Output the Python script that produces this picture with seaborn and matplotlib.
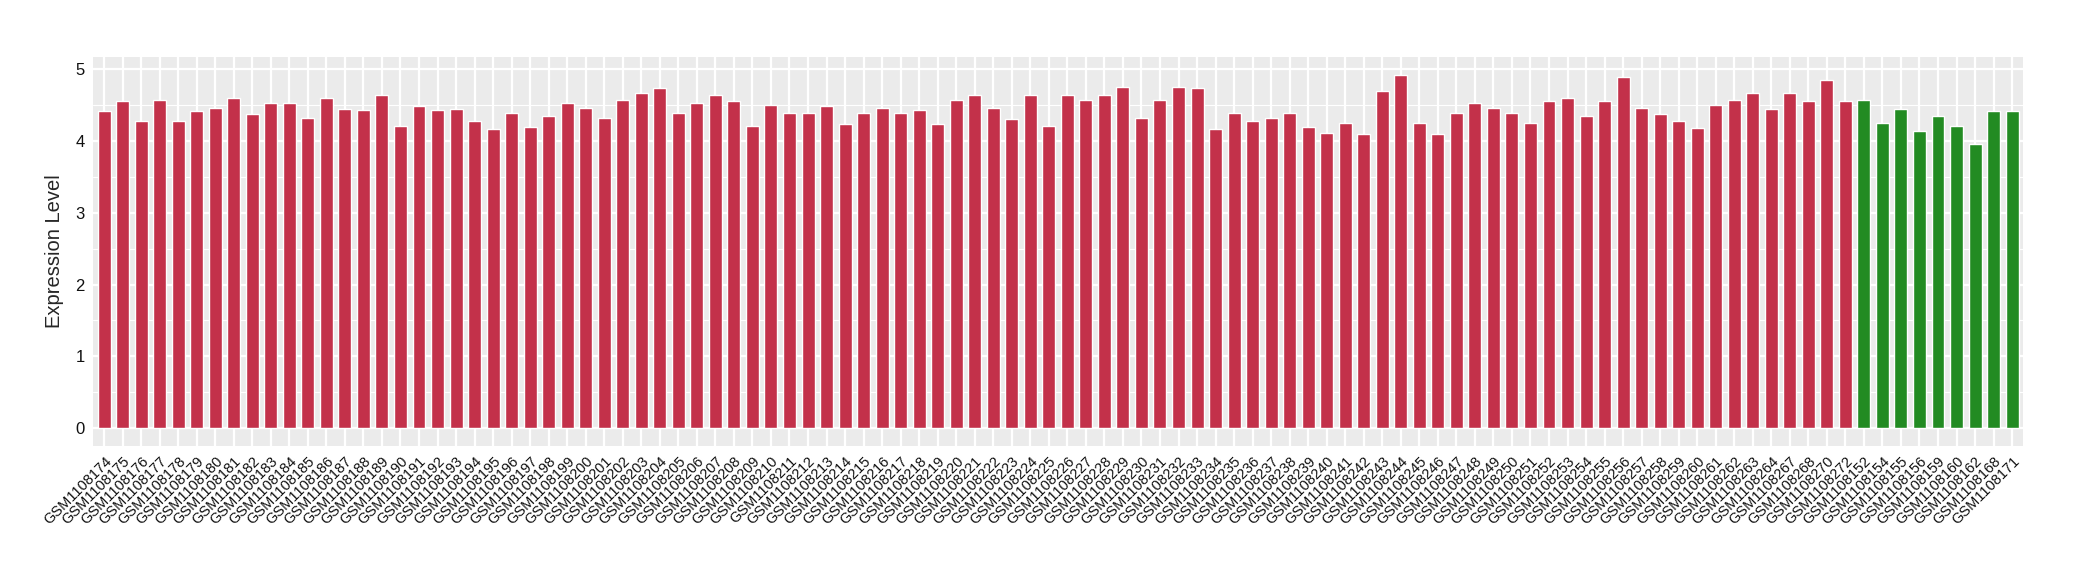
"""
Per-sample expression bar chart:
- one bar per GSM sample, coloured by group
- ggplot-like grey panel with white grid
"""

import matplotlib
matplotlib.use('Agg')
import matplotlib.pyplot as plt
import pandas as pd
import seaborn as sns
from matplotlib.ticker import MultipleLocator

# Sample ids (GSM1108xxx suffixes)
group_a_ids = list(range(174, 265)) + [267, 268, 270, 272]
group_b_ids = [152, 154, 155, 156, 159, 160, 162, 168, 171]

group_a_values = [
    4.41, 4.55, 4.28, 4.57, 4.28, 4.41, 4.46, 4.60, 4.37, 4.52,
    4.53, 4.31, 4.59, 4.44, 4.42, 4.64, 4.20, 4.48, 4.42, 4.44,
    4.27, 4.16, 4.38, 4.19, 4.35, 4.52, 4.46, 4.31, 4.56, 4.67,
    4.73, 4.38, 4.52, 4.64, 4.55, 4.20, 4.49, 4.38, 4.39, 4.48,
    4.23, 4.39, 4.45, 4.38, 4.42, 4.23, 4.56, 4.64, 4.46, 4.30,
    4.64, 4.20, 4.64, 4.57, 4.64, 4.74, 4.31, 4.57, 4.74, 4.73,
    4.16, 4.39, 4.28, 4.31, 4.38, 4.19, 4.10, 4.24, 4.09, 4.69,
    4.92, 4.24, 4.09, 4.38, 4.52, 4.45, 4.38, 4.24, 4.55, 4.59,
    4.34, 4.55, 4.89, 4.46, 4.37, 4.27, 4.17, 4.50, 4.57, 4.66,
    4.44, 4.67, 4.55, 4.84, 4.55,
]
group_b_values = [4.56, 4.25, 4.44, 4.13, 4.35, 4.20, 3.95, 4.41, 4.41]

group_colors = {"A": "#C3314A", "B": "#228B22"}


def build_frame():
    samples = [f"GSM1108{i}" for i in group_a_ids + group_b_ids]
    values  = group_a_values + group_b_values
    groups  = ["A"] * len(group_a_values) + ["B"] * len(group_b_values)
    return pd.DataFrame({"sample": samples, "value": values, "group": groups})


def plot_expression(df, save_path):
    sns.set_style("white")
    plt.rcParams['font.family'] = ['Liberation Sans', 'DejaVu Sans']

    fig = plt.figure(figsize=(20.8, 5.8), dpi=100)
    ax  = fig.add_axes([0.0447, 0.231, 0.928, 0.671])

    sns.barplot(data=df, x="sample", y="value", hue="group",
                palette=group_colors, dodge=False, width=0.7,
                legend=False, saturation=1, ax=ax)

    n    = len(df)
    ymax = df["value"].max()
    ax.set_xlim(-0.6, n - 0.4)
    ax.set_ylim(-0.05 * ymax, ymax * 1.05)

    # ggplot2-style panel
    ax.set_facecolor("#EBEBEB")
    ax.set_axisbelow(True)
    ax.yaxis.set_major_locator(MultipleLocator(1))
    ax.yaxis.set_minor_locator(MultipleLocator(0.5))
    ax.grid(which="major", axis="both", color="white", linewidth=1.6)
    ax.grid(which="minor", axis="y", color="white", linewidth=0.8)
    for side in ax.spines.values():
        side.set_visible(False)

    ax.tick_params(axis="both", which="major", length=4, width=0.8,
                   color="#333333", labelcolor="#111111", pad=2)
    ax.tick_params(axis="y", which="minor", length=0)
    ax.tick_params(axis="y", labelsize=12)
    ax.tick_params(axis="x", labelsize=10.5)
    plt.setp(ax.get_xticklabels(), rotation=45, ha="right",
             rotation_mode="anchor")

    ax.set_xlabel("")
    ax.set_ylabel("Expression Level", fontsize=14.5, labelpad=8)

    fig.savefig(save_path, dpi=100)
    plt.close(fig)
    print(f"[PLOT] saved: {save_path}")


def main():
    df = build_frame()
    plot_expression(df, "out.png")


if __name__ == "__main__":
    main()
